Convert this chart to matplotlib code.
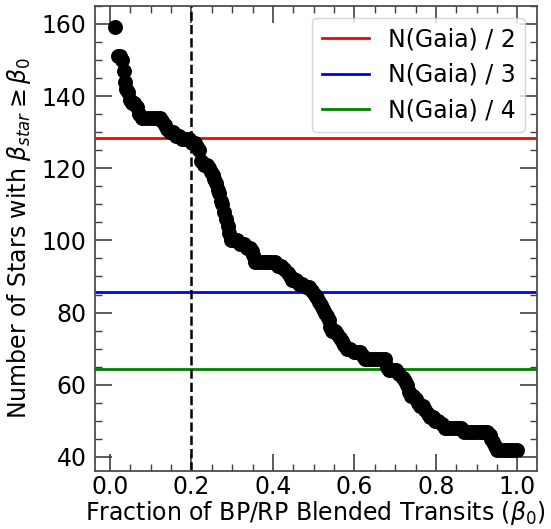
import numpy as np
import matplotlib
matplotlib.use("Agg")
import matplotlib.pyplot as plt

# cumulative counts
beta0 = [0.012, 0.019, 0.024, 0.029, 0.034, 0.038, 0.040, 0.044, 0.048, 0.053,
         0.060, 0.067, 0.072, 0.078, 0.087, 0.096, 0.105, 0.114, 0.122, 0.128,
         0.134, 0.140, 0.148, 0.155, 0.162, 0.170, 0.178, 0.186, 0.194, 0.201,
         0.208, 0.214, 0.218, 0.224, 0.230, 0.237, 0.243, 0.248, 0.252, 0.256,
         0.260, 0.264, 0.268, 0.272, 0.276, 0.280, 0.285, 0.289, 0.293, 0.297,
         0.305, 0.313, 0.320, 0.328, 0.336, 0.343, 0.348, 0.352, 0.356, 0.364,
         0.372, 0.380, 0.388, 0.396, 0.404, 0.412, 0.420, 0.428, 0.436, 0.442,
         0.448, 0.456, 0.464, 0.472, 0.480, 0.488, 0.496, 0.503, 0.508, 0.512,
         0.517, 0.522, 0.527, 0.532, 0.537, 0.541, 0.546, 0.552, 0.558, 0.564,
         0.569, 0.575, 0.582, 0.590, 0.598, 0.606, 0.614, 0.620, 0.626, 0.634,
         0.642, 0.650, 0.658, 0.666, 0.674, 0.680, 0.686, 0.694, 0.702, 0.710,
         0.718, 0.725, 0.730, 0.734, 0.738, 0.744, 0.750, 0.756, 0.762, 0.768,
         0.774, 0.780, 0.786, 0.792, 0.798, 0.806, 0.814, 0.822, 0.830, 0.838,
         0.846, 0.854, 0.862, 0.870, 0.878, 0.886, 0.894, 0.902, 0.910, 0.918,
         0.926, 0.932, 0.936, 0.940, 0.944, 0.950, 0.958, 0.966, 0.974, 0.982,
         0.990, 0.998]
n_stars = [159, 151, 151, 150, 147, 144, 142, 141, 139, 138,
           138, 137, 135, 134, 134, 134, 134, 134, 134, 133,
           132, 131, 130, 130, 129, 129, 128, 128, 128, 127,
           127, 126, 125, 122, 121, 121, 120, 119, 118, 117,
           116, 114, 113, 111, 110, 108, 106, 104, 102, 100,
           100, 100, 99, 99, 98, 98, 97, 96, 94, 94,
           94, 94, 94, 94, 94, 93, 93, 92, 91, 90,
           89, 89, 88, 88, 87, 87, 86, 85, 84, 83,
           82, 81, 80, 79, 78, 76, 75, 75, 74, 73,
           72, 71, 70, 70, 69, 69, 69, 68, 67, 67,
           67, 67, 67, 67, 67, 65, 64, 64, 64, 63,
           62, 61, 60, 58, 57, 57, 56, 55, 54, 54,
           53, 52, 51, 51, 50, 50, 49, 48, 48, 48,
           48, 48, 48, 47, 47, 47, 47, 47, 47, 47,
           47, 46, 45, 44, 43, 42, 42, 42, 42, 42,
           42, 42]

n_gaia = 257
divisors = [2, 3, 4]
line_colors = ['red', 'blue', 'green']
beta_cut = 0.2

fig = plt.figure(figsize=(5.51, 5.29), dpi=100)
ax = fig.add_axes([0.172, 0.110, 0.802, 0.879])

ax.scatter(beta0, n_stars, s=95, color='black', zorder=3)
for d, c in zip(divisors, line_colors):
    ax.axhline(n_gaia / d, color=c, lw=2, label='N(Gaia) / %d' % d)
ax.axvline(beta_cut, color='black', ls='--', lw=1.8)

ax.set_xlabel(r'Fraction of BP/RP Blended Transits ($\beta_0$)', fontsize=17, labelpad=0)
ax.set_ylabel(r'Number of Stars with $\beta_{star} \geq \beta_0$', fontsize=17, labelpad=6)

ax.set_xticks(np.arange(0, 1.01, 0.2))
ax.set_xticks(np.arange(0, 1.04, 0.05), minor=True)
ax.set_yticks(np.arange(40, 161, 20))
ax.set_yticks(np.arange(40, 166, 5), minor=True)
ax.tick_params(which='both', direction='in', top=True, right=True,
               color='0.25', labelsize=17)
ax.tick_params(which='major', length=12, width=1.2)
ax.tick_params(which='minor', length=5, width=1.0)
ax.tick_params(axis='x', which='major', pad=3)
ax.tick_params(axis='y', which='major', pad=6)
for sp in ax.spines.values():
    sp.set_color('0.3')
    sp.set_linewidth(1.3)

ax.legend(loc='upper right', fontsize=17)

fig.savefig('out.png', dpi=100)
